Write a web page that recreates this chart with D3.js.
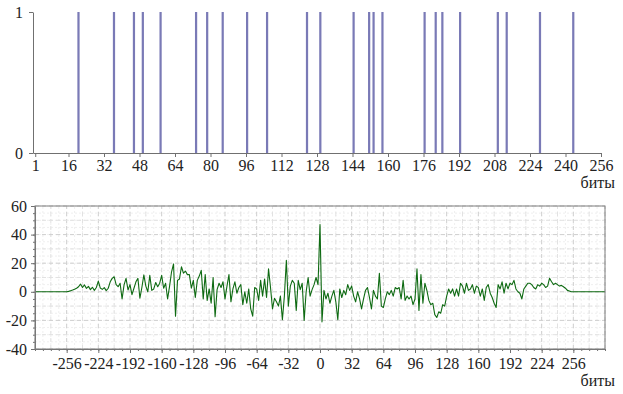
<!DOCTYPE html>
<html>
<head>
<meta charset="utf-8">
<script src="https://cdn.jsdelivr.net/npm/d3@7"></script>
<style>
body { margin: 0; background: #fff; }
</style>
</head>
<body>
<script>
// top panel: positions of the "1" bits
var bitPositions = [20, 36, 45, 49, 57, 73, 78, 85, 96, 105, 123, 129, 144, 151, 153, 157,
	176, 181, 184, 192, 209, 213, 228, 243];
var bitTicks = [1, 16, 32, 48, 64, 80, 96, 112, 128, 144, 160, 176, 192, 208, 224, 240, 256];

// bottom panel: correlation, lag -256..256 step 2 (flat zero outside)
var lagStart = -256, lagStep = 2, lagMin = -288, lagMax = 288;
var corr = [
	0, 0.3, 0.8, 1.2, 1.8, 2.5, 3.5, 5.4, 3, 4.8, 2.4, 3.8, 1.5, 3.2, 1, 3, 7.5,
	2.6, 1.7, 2.9, 0.8, 2.5, 7, 9.4, 10.5, 5, 3.6, 6, -5, 4.8, 9.4, 1.3, 5,
	-2, 2.5, 7, 9.4, -4.5, 3, 11.8, 4, 0, 11.5, 1, 2, 6.5, 3.6, 6, 11.5, 2.5, 6, -5,
	4, 14, 19.5, -17, 8, 9, 17.5, 13, 14.5, 12, 12, 2.5, 8, -4, 8, 11, 15, -5, 12, -6, 2, -8, 10, -17.5, 1.5,
	6, 3, 7, -5, 4, 12, -7, 2, 7, -1, 3, 5, -9, 0, -8, 2, -12, -17, 3, 2, -6, 8, -3, 9, -4, 16,
	3, -12, -4.5, -7, -10, -3, -19.5, -3, 22, -10, 4, 8, 6, -13, 8, 1.5, 6, -20, 0, 10, -3, 1.5, 5, 10, 5,
	47,
	-21, 1, -5, -1, -8, -3, 1, -7, -19.5, 2, -4, 1, -2, 5, 1, 4, -3, -7, 0, -5, -12, -5, 1, 3, -4,
	-12, 1, -3, -5, 13, -10, -11, -5, 0, -2, 1, -3, 3, 2, 3, -5, 8, -6, -3, -5, -3, -9, -5, 16, -13,
	12, -8, 6, 1, -6, -9, -8, -16, -18, -14, -15, -9, -10, -3, 2, -1, 2, -3, 2, -3, 6, 4, -1, 6, 1,
	2, 5, -1, 4, 3, -3, 2, -6, 3, 5, -1, -4, -8, -11, 5, 2, 7, -1, 6, 2,
	6, 5, 8, 2, 0, -1, -5, 2, 4, 6, 6, 5, 3, 2, 5, 4, 6, 5, 3, 4,
	9.5, 7, 5, 6, 5, 4, 4.5, 3.5, 2.5, 1, 0.5, 0, 0
];
var lagTicks = [-256, -224, -192, -160, -128, -96, -64, -32, 0, 32, 64, 96, 128, 160, 192, 224, 256];
var corrTicks = [-40, -20, 0, 20, 40, 60];
var unitLabel = "биты";

var fontName = "Liberation Serif";
var plain = function(d) { return String(d); };   // keep ASCII hyphen for negatives

var svg = d3.select("body").append("svg")
	.attr("width", 623)
	.attr("height", 394);

// ---------- top chart ----------
var xTop = d3.scaleLinear().domain([0, 256]).range([33, 601]);
var yTop = d3.scaleLinear().domain([0, 1]).range([153, 12]);

svg.selectAll(".bar")
	.data(bitPositions)
	.enter().append("rect")
	.attr("class", "bar")
	.attr("x", function(d) { return xTop(d); })
	.attr("width", xTop(1) - xTop(0))
	.attr("y", yTop(1))
	.attr("height", yTop(0) - yTop(1))
	.attr("fill", "#7a7ab6");

svg.append("g")
	.attr("transform", "translate(0," + yTop(0) + ")")
	.call(d3.axisBottom(xTop).tickValues(bitTicks).tickFormat(plain).tickSize(4).tickSizeOuter(0));
svg.append("g")
	.attr("transform", "translate(" + xTop(0) + ",0)")
	.call(d3.axisLeft(yTop).tickValues([0, 1]).tickFormat(plain).tickSize(4).tickSizeOuter(0).tickPadding(6));

svg.append("text")
	.attr("x", 615).attr("y", 188)
	.attr("text-anchor", "end")
	.text(unitLabel);

// ---------- bottom chart ----------
var xBot = d3.scaleLinear().domain([lagMin, lagMax]).range([35, 605]);
var yBot = d3.scaleLinear().domain([-40, 60]).range([349, 206]);

var grid = svg.append("g");
// faint fine grid
grid.selectAll(".vf").data(d3.range(lagMin, lagMax + 1, 8)).enter().append("line")
	.attr("x1", function(d) { return xBot(d); }).attr("x2", function(d) { return xBot(d); })
	.attr("y1", yBot(-40)).attr("y2", yBot(60))
	.attr("stroke", "#efefef").attr("stroke-dasharray", "2,2");
grid.selectAll(".hf").data(d3.range(-40, 61, 5)).enter().append("line")
	.attr("x1", xBot(lagMin)).attr("x2", xBot(lagMax))
	.attr("y1", function(d) { return yBot(d); }).attr("y2", function(d) { return yBot(d); })
	.attr("stroke", "#efefef").attr("stroke-dasharray", "2,2");
// main dashed grid
grid.selectAll(".vm").data(d3.range(lagMin, lagMax + 1, 16)).enter().append("line")
	.attr("x1", function(d) { return xBot(d); }).attr("x2", function(d) { return xBot(d); })
	.attr("y1", yBot(-40)).attr("y2", yBot(60))
	.attr("stroke", function(d) { return d % 32 == 0 ? "#cfcfcf" : "#e2e2e2"; })
	.attr("stroke-dasharray", "4,3");
grid.selectAll(".hm").data(d3.range(-40, 61, 10)).enter().append("line")
	.attr("x1", xBot(lagMin)).attr("x2", xBot(lagMax))
	.attr("y1", function(d) { return yBot(d); }).attr("y2", function(d) { return yBot(d); })
	.attr("stroke", function(d) { return d % 20 == 0 ? "#cfcfcf" : "#e2e2e2"; })
	.attr("stroke-dasharray", "4,3");

var pts = [{lag: lagMin, v: 0}];
corr.forEach(function(v, i) { pts.push({lag: lagStart + i * lagStep, v: v}); });
pts.push({lag: lagMax, v: 0});

var line = d3.line()
	.x(function(d) { return xBot(d.lag); })
	.y(function(d) { return yBot(d.v); });

svg.append("path")
	.datum(pts)
	.attr("d", line)
	.attr("fill", "none")
	.attr("stroke", "#0e6a12")
	.attr("stroke-width", 1.1)
	.attr("stroke-linejoin", "round");

// minor ticks
svg.append("g")
	.attr("transform", "translate(0," + yBot(-40) + ")")
	.call(d3.axisBottom(xBot).tickValues(d3.range(lagMin, lagMax + 1, 8)).tickSize(2).tickFormat("").tickSizeOuter(0));
svg.append("g")
	.attr("transform", "translate(" + xBot(lagMin) + ",0)")
	.call(d3.axisLeft(yBot).tickValues(d3.range(-40, 61, 5)).tickSize(2).tickFormat("").tickSizeOuter(0));

svg.append("g")
	.attr("transform", "translate(0," + yBot(-40) + ")")
	.call(d3.axisBottom(xBot).tickValues(lagTicks).tickFormat(plain).tickSize(4).tickPadding(5).tickSizeOuter(0));
svg.append("g")
	.attr("transform", "translate(" + xBot(lagMin) + ",0)")
	.call(d3.axisLeft(yBot).tickValues(corrTicks).tickFormat(plain).tickSize(4).tickPadding(4).tickSizeOuter(0));

// frame
svg.append("rect")
	.attr("x", xBot(lagMin)).attr("y", yBot(60))
	.attr("width", xBot(lagMax) - xBot(lagMin))
	.attr("height", yBot(-40) - yBot(60))
	.attr("fill", "none")
	.attr("stroke", "#808080");

svg.append("text")
	.attr("x", 615).attr("y", 386)
	.attr("text-anchor", "end")
	.text(unitLabel);

svg.selectAll(".domain").attr("stroke", "#707070");
svg.selectAll(".tick line").attr("stroke", "#707070");
svg.selectAll("g").attr("font-family", null).attr("font-size", null);
svg.selectAll("text").style("font-family", fontName).style("font-size", "16px").attr("fill", "#222");
</script>
</body>
</html>
